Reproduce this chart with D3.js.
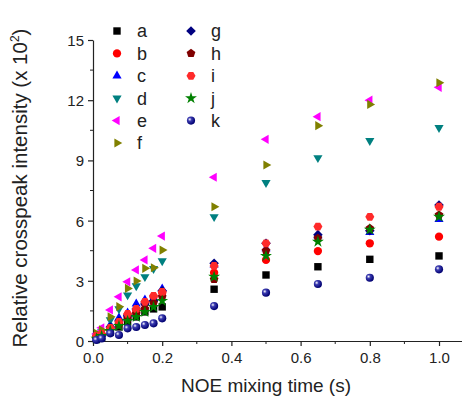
<!DOCTYPE html>
<html><head><meta charset="utf-8">
<script src="https://cdn.jsdelivr.net/npm/d3@7"></script>
<style>
html,body{margin:0;padding:0;background:#fff;}
svg{display:block;font-family:"Liberation Sans",Arial,sans-serif;}
</style></head>
<body><svg id="c" width="464" height="403"></svg>
<script>
// ---- data ----
const times = [0.01, 0.025, 0.05, 0.075, 0.1, 0.125, 0.15, 0.175, 0.2, 0.35, 0.5, 0.65, 0.8, 1.0];
const seriesNames = ["a","b","c","d","e","f","g","h","i","j","k"];
const a = [0.10, 0.20, 0.45, 0.70, 0.95, 1.20, 1.45, 1.60, 1.70, 2.58, 3.29, 3.70, 4.07, 4.24];
const b = [0.20, 0.30, 0.60, 0.90, 1.30, 1.50, 1.85, 2.20, 2.40, 3.40, 4.04, 4.48, 4.87, 5.20];
const c = [0.15, 0.35, 0.80, 1.15, 1.40, 1.85, 2.05, 2.10, 2.60, 3.80, 4.60, 5.25, 5.41, 6.06];
const d = [0.25, 0.45, 1.05, 1.60, 2.29, 2.74, 3.20, 3.60, 3.99, 6.19, 7.89, 9.13, 9.98, 10.63];
const e = [0.35, 0.66, 1.55, 2.20, 2.95, 3.54, 4.04, 4.62, 5.23, 8.16, 10.05, 11.18, 12.00, 12.64];
const f = [0.38, 0.55, 1.21, 1.71, 2.62, 2.99, 3.62, 3.65, 4.53, 6.69, 8.77, 10.73, 11.79, 12.87];
const g = [0.15, 0.30, 0.70, 1.00, 1.25, 1.60, 1.85, 2.00, 2.50, 3.87, 4.87, 5.30, 5.50, 6.78];
const h = [0.18, 0.30, 0.55, 0.80, 1.10, 1.35, 1.60, 1.90, 2.20, 3.07, 4.50, 5.12, 5.61, 6.28];
const i = [0.25, 0.35, 0.65, 0.95, 1.35, 1.60, 1.95, 2.25, 2.45, 3.74, 4.87, 5.70, 6.19, 6.69];
const j = [0.12, 0.25, 0.50, 0.75, 1.00, 1.20, 1.45, 1.70, 2.00, 3.20, 4.24, 4.95, 5.55, 6.19];
const k = [0.05, 0.13, 0.38, 0.30, 0.63, 0.70, 0.80, 0.88, 1.13, 1.74, 2.41, 2.84, 3.15, 3.57];
const seriesValues = [a,b,c,d,e,f,g,h,i,j,k];
const xTicks = [0.0, 0.2, 0.4, 0.6, 0.8, 1.0];
const yTicks = [0, 3, 6, 9, 12, 15];
const xTitle = "NOE mixing time (s)";
const yTitle = "Relative crosspeak intensity (x 10";

// ---- styles ----
const colors = ["#000000","#ff0000","#0000ff","#008080","#ff00ff","#808000","#000080","#800000","#ff2a2a","#008000","#000080"];
const shapes = ["square","circle","up","down","left","right","diamond","pentagon","hexagon","star","ball"];

const svg = d3.select("#c");
const x = d3.scaleLinear().domain([0, 1.065]).range([93, 461.5]);
const y = d3.scaleLinear().domain([0, 15]).range([341, 40]);

const defs = svg.append("defs");
const grad = defs.append("radialGradient").attr("id","ball").attr("cx","0.35").attr("cy","0.35").attr("r","0.65");
grad.append("stop").attr("offset","0").attr("stop-color","#ffffff");
grad.append("stop").attr("offset","0.35").attr("stop-color","#3a3ab0");
grad.append("stop").attr("offset","1").attr("stop-color","#000070");

function poly(n, r, rot){
  const pts=[];
  for(let q=0;q<n;q++){const ang=rot+q*2*Math.PI/n;pts.push([r*Math.cos(ang),r*Math.sin(ang)]);}
  return "M"+pts.map(p=>p[0].toFixed(2)+","+p[1].toFixed(2)).join("L")+"Z";
}
function shapePath(s){
  switch(s){
    case "square": return "M-3.7,-3.7H3.7V3.7H-3.7Z";
    case "circle": return d3.symbol(d3.symbolCircle, 54)();
    case "up": return poly(3, 5.3, -Math.PI/2);
    case "down": return poly(3, 5.3, Math.PI/2);
    case "left": return poly(3, 5.3, Math.PI);
    case "right": return poly(3, 5.3, 0);
    case "diamond": return poly(4, 4.8, 0);
    case "pentagon": return poly(5, 4.6, -Math.PI/2);
    case "hexagon": return poly(6, 4.5, 0);
    case "star": return d3.symbol(d3.symbolStar, 44)();
    case "ball": return d3.symbol(d3.symbolCircle, 52)();
  }
}
function fillFor(idx){ return shapes[idx]==="ball" ? "url(#ball)" : colors[idx]; }

// ---- axes ----
const ink = "#222";
const xAxis = d3.axisBottom(x).tickValues(xTicks).tickFormat(d3.format(".1f")).tickSize(5).tickSizeOuter(0);
const gx = svg.append("g").attr("transform","translate(0,341)").call(xAxis);
const yAxis = d3.axisLeft(y).tickValues(yTicks).tickFormat(d3.format("d")).tickSize(5).tickSizeOuter(0);
const gy = svg.append("g").attr("transform","translate(93,0)").call(yAxis);
[gx,gy].forEach(gg=>{
  gg.select(".domain").attr("stroke",ink).attr("stroke-width",1.2);
  gg.selectAll(".tick line").attr("stroke",ink).attr("stroke-width",1.2);
  gg.selectAll(".tick text").attr("fill",ink).style("font-size","15px").style("font-family","Liberation Sans, Arial, sans-serif");
});
gx.selectAll(".tick text").attr("dy","0.95em");
gy.selectAll(".tick text").attr("dx","-1px").attr("dy","0.36em");
// minor ticks
const xMinor = d3.range(0.1, 1.05, 0.2);
svg.append("g").selectAll("line").data(xMinor).join("line")
  .attr("x1",v=>x(v)).attr("x2",v=>x(v)).attr("y1",341).attr("y2",344).attr("stroke",ink).attr("stroke-width",1);
const yMinor = d3.range(1.5, 15, 3);
svg.append("g").selectAll("line").data(yMinor).join("line")
  .attr("x1",90).attr("x2",93).attr("y1",v=>y(v)).attr("y2",v=>y(v)).attr("stroke",ink).attr("stroke-width",1);

// titles
svg.append("text").attr("x",266).attr("y",392).attr("text-anchor","middle")
  .attr("fill",ink).style("font-size","19px").text(xTitle);
const yt = svg.append("text").attr("transform","translate(27,188) rotate(-90)").attr("text-anchor","middle")
  .attr("fill",ink).style("font-size","20.5px");
yt.append("tspan").text(yTitle);
yt.append("tspan").attr("dy","-8").style("font-size","12px").text("2");
yt.append("tspan").attr("dy","8").text(")");

// ---- points ----
const pts = svg.append("g");
seriesValues.forEach((vals, idx)=>{
  pts.append("g").selectAll("path").data(vals.map((v,t)=>[times[t],v])).join("path")
    .attr("d", shapePath(shapes[idx]))
    .attr("transform", p=>`translate(${x(p[0])},${y(p[1])})`)
    .attr("fill", fillFor(idx));
});

// ---- legend ----
const leg = svg.append("g");
seriesNames.forEach((name, idx)=>{
  const col = idx < 6 ? 0 : 1;
  const row = idx < 6 ? idx : idx - 6;
  const sx = col===0 ? 117 : 191;
  const sy = 31 + row*22.4;
  leg.append("path").attr("d", shapePath(shapes[idx])).attr("transform",`translate(${sx},${sy})`).attr("fill", fillFor(idx));
  leg.append("text").attr("x", sx+20).attr("y", sy).attr("dy","0.36em").attr("fill",ink)
    .style("font-size","18px").text(name);
});
</script></body></html>
